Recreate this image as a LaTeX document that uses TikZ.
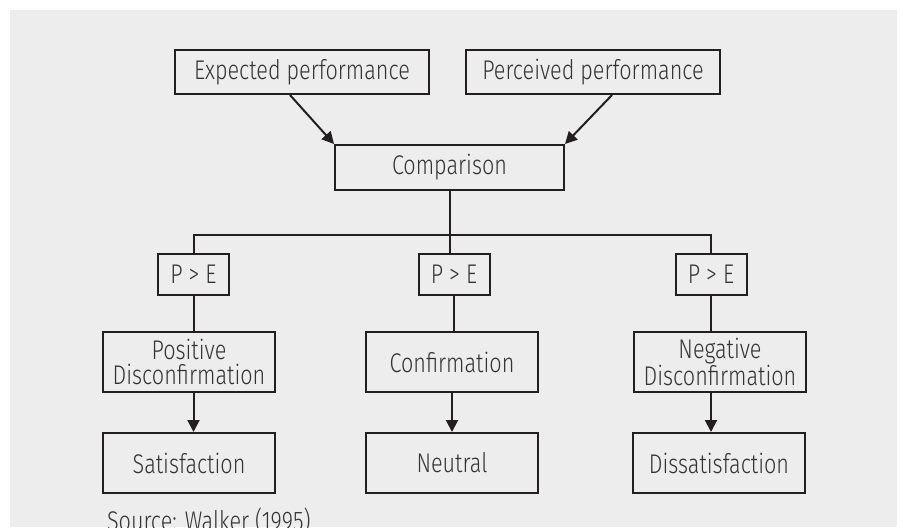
\documentclass[tikz,border=0pt]{standalone}
\usepackage{fontspec}
\setmainfont{Fira Sans}[UprightFont=* Light,FakeStretch=0.8]
\usetikzlibrary{arrows.meta,positioning}
\definecolor{bggray}{HTML}{EDEDED}
\definecolor{inkgray}{HTML}{231F20}
\definecolor{txtgray}{HTML}{333333}

\begin{document}
\begin{tikzpicture}[x=0.5pt,y=-0.5pt,
    box/.style={draw=inkgray,line width=1pt,fill=bggray,text=txtgray,
        inner sep=0pt,align=center,font=\fontsize{13.5}{12.7}\selectfont},
    topbox/.style={box,minimum width=127pt,minimum height=22pt},
    pebox/.style={box,minimum width=35.5pt,minimum height=20.5pt},
    outbox/.style={box,minimum width=86.3pt,minimum height=30pt},
    link/.style={draw=inkgray,line width=1pt},
    arr/.style={link,-{Triangle[length=6pt,width=6pt]}}
    ]

    % page and grey panel
    \clip (0,0) rectangle (901,527);
    \fill[white] (0,0) rectangle (901,527);
    \fill[bggray] (10,10) rectangle (897,527);

    % inputs and comparison
    \node[topbox] (exp) at (302,72) {Expected performance};
    \node[topbox] (perc) at (593,72) {Perceived performance};
    \node[box,minimum width=114.5pt,minimum height=22.5pt] (comp) at (449.5,167.5) {Comparison};

    \draw[arr] ([xshift=-6pt]exp.south) -- (comp.north west);
    \draw[arr] ([xshift=9.5pt]perc.south) -- (comp.north east);

    % the three branches
    \node[pebox] (pe1) at (193.5,274.5) {P > E};
    \node[pebox] (pe2) at (454,274.5) {P > E};
    \node[pebox] (pe3) at (711,274.5) {P > E};

    \coordinate (bus) at (449.5,234.7);
    \draw[link] (comp.south) -- (comp.south |- pe2.north);
    \draw[link] (pe1.north) |- (bus) -| (pe3.north);

    \node[outbox] (pos) at (189,362) {Positive\\Disconfirmation};
    \node[outbox] (conf) at (452,362) {Confirmation};
    \node[outbox] (neg) at (720,362) {Negative\\Disconfirmation};

    \node[outbox] (sat) at (189,463) {Satisfaction};
    \node[outbox] (neut) at (452,463) {Neutral};
    \node[outbox] (dis) at (719,463) {Dissatisfaction};

    \draw[link] (pe1.south) -- (pe1.south |- pos.north);
    \draw[link] (pe2.south) -- (pe2.south |- conf.north);
    \draw[link] (pe3.south) -- (pe3.south |- neg.north);

    \draw[arr] (pos.south -| pe1) -- (sat.north -| pe1);
    \draw[arr] (conf.south) -- (neut.north);
    \draw[arr] (neg.south -| pe3) -- (dis.north -| pe3);

    % source line, cut by the lower edge
    \node[anchor=base west,inner sep=0pt,text=txtgray,font=\fontsize{13.5}{15}\selectfont] (src) at (106.7,530.7) {Source: Walker (1995)};
\end{tikzpicture}
\end{document}
